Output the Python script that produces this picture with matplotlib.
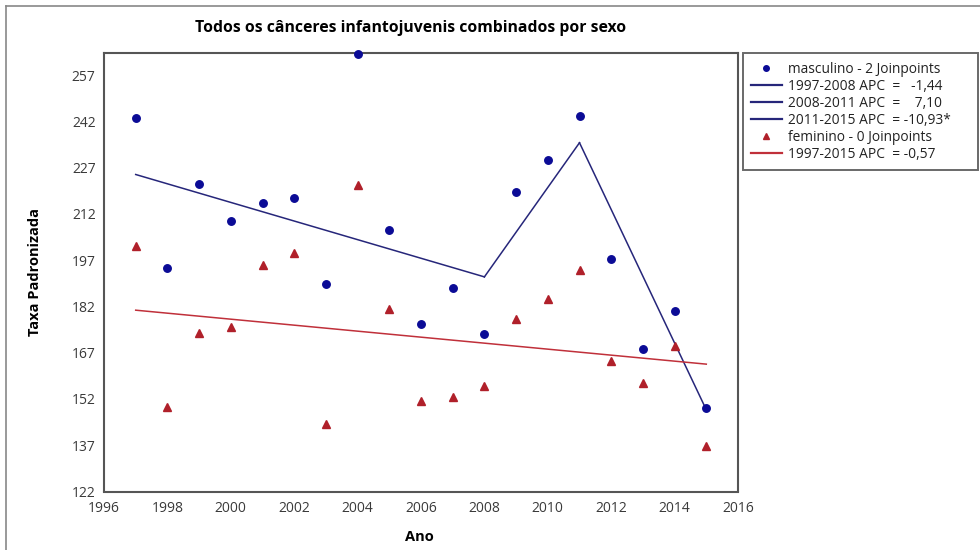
import matplotlib
matplotlib.use("Agg")
import matplotlib.pyplot as plt
from matplotlib.lines import Line2D

plt.rcParams['font.family'] = ['Open Sans', 'DejaVu Sans']

# Observed standardized rates by year
years = [1997, 1998, 1999, 2000, 2001, 2002, 2003, 2004, 2005, 2006,
         2007, 2008, 2009, 2010, 2011, 2012, 2013, 2014, 2015]
masculino = [243.0, 194.5, 221.7, 209.6, 215.5, 217.2, 189.3, 264.0, 206.8, 176.2,
             187.9, 173.2, 219.1, 229.5, 243.9, 197.5, 168.2, 180.5, 149.0]
feminino = [201.6, 149.3, 173.5, 175.3, 195.6, 199.2, 143.8, 221.4, 181.3, 151.4,
            152.6, 156.1, 177.9, 184.5, 193.8, 164.4, 157.2, 169.1, 136.8]

# Joinpoint fitted values at the segment ends
masc_fit_years = [1997, 2008, 2011, 2015]
masc_fit_vals = [224.8, 191.6, 235.1, 148.5]
fem_fit_years = [1997, 2015]
fem_fit_vals = [180.8, 163.3]

masc_segment_labels = ["1997-2008 APC  =   -1,44",
                       "2008-2011 APC  =    7,10",
                       "2011-2015 APC  = -10,93*"]
fem_segment_label = "1997-2015 APC  = -0,57"

x_ticks = [1996, 1998, 2000, 2002, 2004, 2006, 2008, 2010, 2012, 2014, 2016]
y_ticks = [122, 137, 152, 167, 182, 197, 212, 227, 242, 257]

BLUE_PT = "#0b0b96"
BLUE_LN = "#26267a"
RED_PT = "#b0202a"
RED_LN = "#c0303a"

W, H = 980, 550
fig = plt.figure(figsize=(W / 100, H / 100), dpi=100)
ax = fig.add_axes([104 / W, 1 - 491.5 / H, (738 - 104) / W, (491.5 - 53) / H])

ax.plot(years, masculino, linestyle="none", marker="o", markersize=5.4,
        color=BLUE_PT, clip_on=False, zorder=4)
for i, lab in enumerate(masc_segment_labels):
    ax.plot(masc_fit_years[i:i + 2], masc_fit_vals[i:i + 2], color=BLUE_LN,
            lw=1.1, zorder=3)
ax.plot(years, feminino, linestyle="none", marker="^", markersize=5.4,
        color=RED_PT, clip_on=False, zorder=4)
ax.plot(fem_fit_years, fem_fit_vals, color=RED_LN, lw=1.1, zorder=3)

ax.set_xlim(1996, 2016)
ax.set_ylim(122, 264.2)
ax.set_xticks(x_ticks)
ax.set_yticks(y_ticks)
ax.tick_params(length=0, labelsize=10, colors="#3a3a3a", pad=7)
ax.tick_params(axis="y", pad=6)
for s in ax.spines.values():
    s.set_color("#555555")
    s.set_linewidth(1.5)

fig.text(419 / W, 1 - 537 / H, "Ano", ha="center", va="center",
         fontsize=10.5, fontweight="bold")
fig.text(35 / W, 1 - 272 / H, "Taxa Padronizada", ha="center", va="center",
         rotation=90, fontsize=10.5, fontweight="bold")
fig.text(411 / W, 1 - 28 / H, "Todos os cânceres infantojuvenis combinados por sexo",
         ha="center", va="center", fontsize=11.3, fontweight="bold")

handles = [
    Line2D([], [], linestyle="none", marker="o", markersize=4, color=BLUE_PT),
    Line2D([], [], color=BLUE_LN, lw=1.6),
    Line2D([], [], color=BLUE_LN, lw=1.6),
    Line2D([], [], color=BLUE_LN, lw=1.6),
    Line2D([], [], linestyle="none", marker="^", markersize=4, color=RED_PT),
    Line2D([], [], color=RED_LN, lw=1.6),
]
labels = ["masculino - 2 Joinpoints"] + masc_segment_labels + \
         ["feminino - 0 Joinpoints", fem_segment_label]
leg = fig.legend(handles, labels, loc="upper left",
                 bbox_to_anchor=(743 / W, 1 - 54 / H, (978 - 743) / W, 0.001),
                 mode="expand", fontsize=9.9, frameon=True, fancybox=False,
                 borderpad=0.6, labelspacing=0.15, handlelength=2.2,
                 handletextpad=0.5, borderaxespad=0)
leg.get_frame().set_edgecolor("#444444")
leg.get_frame().set_linewidth(1.4)
for t in leg.get_texts():
    t.set_color("#222222")

# Outer border of the figure panel
fig.add_artist(Line2D([6 / W, 6 / W], [0, 1 - 6 / H], color="#888888", lw=1.2))
fig.add_artist(Line2D([6 / W, 1], [1 - 6 / H, 1 - 6 / H], color="#888888", lw=1.2))

fig.savefig("out.png", dpi=100)
